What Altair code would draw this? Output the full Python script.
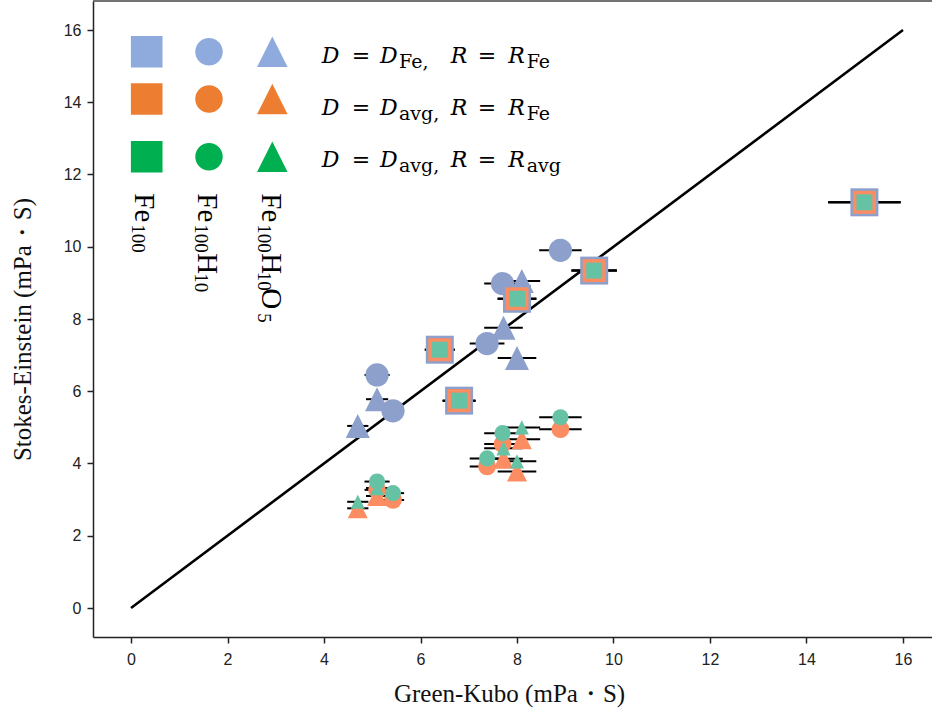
import altair as alt
import pandas as pd

# ---------------- data ----------------
methods = ["D=D_Fe, R=R_Fe", "D=D_avg, R=R_Fe", "D=D_avg, R=R_avg"]
materials = ["Fe100", "Fe100H10", "Fe100H10O5"]

# Fe100 (squares)
fe100_gk = [6.4, 6.8, 8.0, 9.6, 15.2]
fe100_gk_err = [0.31, 0.34, 0.40, 0.47, 0.75]
fe100_se_dfe_rfe = [7.15, 5.74, 8.56, 9.34, 11.23]
fe100_se_davg_rfe = [7.15, 5.74, 8.56, 9.34, 11.23]
fe100_se_davg_ravg = [7.15, 5.74, 8.56, 9.34, 11.23]

# Fe100H10 (circles)
feh_gk = [5.1, 5.43, 7.38, 7.7, 8.9]
feh_gk_err = [0.26, 0.23, 0.36, 0.38, 0.44]
feh_se_dfe_rfe = [6.45, 5.46, 7.32, 8.98, 9.9]
feh_se_davg_rfe = [3.27, 2.99, 3.92, 4.54, 4.95]
feh_se_davg_ravg = [3.50, 3.18, 4.14, 4.84, 5.28]

# Fe100H10O5 (triangles)
feho_gk = [4.7, 5.1, 7.72, 8.0, 8.1]
feho_gk_err = [0.22, 0.23, 0.40, 0.40, 0.38]
feho_se_dfe_rfe = [5.04, 5.78, 7.76, 6.92, 9.05]
feho_se_davg_rfe = [2.76, 3.10, 4.13, 3.78, 4.67]
feho_se_davg_ravg = [2.94, 3.32, 4.42, 4.06, 5.00]

diag_x = [0, 16]
diag_y = [0, 16]
axis_ticks = [0, 2, 4, 6, 8, 10, 12, 14, 16]

# ---------------- styles ----------------
TRI = "M0,-1L1,1L-1,1Z"
method_colors = ["#8DA0CB", "#FC8D62", "#66C2A5"]
legend_colors = ["#8FAADC", "#ED7D31", "#00B050"]
material_shapes = {"Fe100": "square", "Fe100H10": "circle", "Fe100H10O5": TRI}
marker_sizes = {"Fe100": [784, 529, 256], "Fe100H10": [540, 314, 262], "Fe100H10O5": [576, 400, 200]}
legend_sizes = {"Fe100": 1000, "Fe100H10": 755, "Fe100H10O5": 930}

# ---------------- geometry ----------------
W, H = 839, 636
PAD_L, PAD_T, PAD_B = 93, 1, 78
PX_X, PX_Y = 48.25, 36.125          # pixels per unit
XMIN = -(131 - PAD_L) / PX_X
XMAX = XMIN + W / PX_X
YMAX = (608 - PAD_T) / PX_Y
YMIN = YMAX - H / PX_Y


def dx(p):
    return XMIN + (p - PAD_L) / PX_X


def dy(p):
    return YMAX - (p - PAD_T) / PX_Y


series = [
    ("Fe100", fe100_gk, fe100_gk_err, [fe100_se_dfe_rfe, fe100_se_davg_rfe, fe100_se_davg_ravg]),
    ("Fe100H10", feh_gk, feh_gk_err, [feh_se_dfe_rfe, feh_se_davg_rfe, feh_se_davg_ravg]),
    ("Fe100H10O5", feho_gk, feho_gk_err, [feho_se_dfe_rfe, feho_se_davg_rfe, feho_se_davg_ravg]),
]

rows = []
for mi, method in enumerate(methods):
    for mat, gk, err, ys in series:
        for xv, ev, yv in zip(gk, err, ys[mi]):
            rows.append(dict(x=xv, x2=xv + ev, xlo=xv - ev, y=yv, method=method, material=mat,
                             color=method_colors[mi], shape=material_shapes[mat],
                             size=marker_sizes[mat][mi]))
pts = pd.DataFrame(rows)
bars = pts.assign(x=pts["xlo"])

xscale = alt.Scale(domain=[XMIN, XMAX], nice=False, zero=False)
yscale = alt.Scale(domain=[YMIN, YMAX], nice=False, zero=False)
xaxis = alt.Axis(values=axis_ticks, grid=False, title="Green-Kubo (mPa・S)",
                 domainColor="#222", domainWidth=1.5, tickColor="#222", tickWidth=1.5, tickSize=6,
                 labelFont="Liberation Sans", labelFontSize=16, labelColor="#222", labelPadding=8,
                 titleFont="Liberation Serif", titleFontSize=25, titleFontWeight="normal",
                 titleColor="#111", titleX=416, titleY=56, titleBaseline="middle", titleAlign="center")
yaxis = alt.Axis(values=axis_ticks, grid=False, title="Stokes-Einstein (mPa・S)",
                 domainColor="#222", domainWidth=1.5, tickColor="#222", tickWidth=1.5, tickSize=6,
                 labelFont="Liberation Sans", labelFontSize=16, labelColor="#222", labelPadding=6,
                 titleFont="Liberation Serif", titleFontSize=25, titleFontWeight="normal",
                 titleColor="#111", titleAngle=270, titleX=-71, titleY=328,
                 titleBaseline="middle", titleAlign="center")
X = alt.X("x:Q", scale=xscale, axis=xaxis)
Y = alt.Y("y:Q", scale=yscale, axis=yaxis)

diag = alt.Chart(pd.DataFrame({"x": diag_x, "y": diag_y})).mark_line(
    color="black", strokeWidth=2.6).encode(x=X, y=Y)

errbars = alt.Chart(bars).mark_rule(color="black", strokeWidth=2).encode(
    x=X, x2="x2:Q", y=Y)

markers = alt.Chart(pts).mark_point(filled=True, opacity=1, strokeWidth=0).encode(
    x=X, y=Y,
    color=alt.Color("color:N", scale=None),
    shape=alt.Shape("shape:N", scale=None),
    size=alt.Size("size:Q", scale=None))

# ---------------- custom legend ----------------
leg_col_px = [146.7, 209.0, 272.3]
leg_row_px = [51.7, 99.0, 156.7]
leg_rows = []
for ri in range(3):
    for ci, mat in enumerate(materials):
        leg_rows.append(dict(x=dx(leg_col_px[ci]), y=dy(leg_row_px[ri]), color=legend_colors[ri],
                             shape=material_shapes[mat], size=legend_sizes[mat]))
leg_sym = alt.Chart(pd.DataFrame(leg_rows)).mark_point(filled=True, opacity=1, strokeWidth=0).encode(
    x=X, y=Y,
    color=alt.Color("color:N", scale=None),
    shape=alt.Shape("shape:N", scale=None),
    size=alt.Size("size:Q", scale=None))

row_base = [63.0, 115.0, 167.0]
sub_texts = [["Fe,", "Fe"], ["avg,", "Fe"], ["avg,", "avg"]]
main_pieces = [("D", 321.7), ("=", 351.7), ("D", 380.0), ("R", 450.7), ("=", 477.7), ("R", 508.3)]
sub_x = [399.0, 526.7]
main_rows, sub_rows = [], []
for ri in range(3):
    for t, px in main_pieces:
        main_rows.append(dict(x=dx(px), y=dy(row_base[ri]), text=t))
    for si in range(2):
        sub_rows.append(dict(x=dx(sub_x[si]), y=dy(row_base[ri] + 5), text=sub_texts[ri][si]))

eq_main = alt.Chart(pd.DataFrame(main_rows)).mark_text(
    align="left", baseline="alphabetic", font="DejaVu Serif", fontStyle="italic",
    fontSize=22, color="black").encode(x=X, y=Y, text="text:N")
eq_sub = alt.Chart(pd.DataFrame(sub_rows)).mark_text(
    align="left", baseline="alphabetic", font="DejaVu Serif", fontSize=19,
    color="black").encode(x=X, y=Y, text="text:N")

# vertical material labels (rotated 90 degrees)
vcol_base = [135.0, 198.3, 261.7]
v_main, v_sub = [], []
label_parts = [
    [("Fe", 0, 193.3), ("100", 1, 224.3)],
    [("Fe", 0, 193.3), ("100", 1, 224.3), ("H", 0, 253.3), ("10", 1, 273.3)],
    [("Fe", 0, 193.3), ("100", 1, 224.3), ("H", 0, 253.3), ("10", 1, 271.7), ("O", 0, 288.3), ("5", 1, 313.3)],
]
for ci, parts in enumerate(label_parts):
    for t, is_sub, py in parts:
        if is_sub:
            v_sub.append(dict(x=dx(vcol_base[ci] - 3.5), y=dy(py), text=t))
        else:
            v_main.append(dict(x=dx(vcol_base[ci]), y=dy(py), text=t))

lab_main = alt.Chart(pd.DataFrame(v_main)).mark_text(
    align="left", baseline="alphabetic", angle=90, font="Liberation Serif", fontSize=29,
    color="black").encode(x=X, y=Y, text="text:N")
lab_sub = alt.Chart(pd.DataFrame(v_sub)).mark_text(
    align="left", baseline="alphabetic", angle=90, font="Liberation Serif", fontSize=19,
    color="black").encode(x=X, y=Y, text="text:N")

top_border = alt.Chart(pd.DataFrame({"a": [0]})).mark_rule(color="#444", strokeWidth=1.5).encode(
    x=alt.value(0), x2=alt.value(W), y=alt.value(0))

chart = alt.layer(
    top_border, diag, errbars, markers, leg_sym, eq_main, eq_sub, lab_main, lab_sub
).properties(
    width=W, height=H,
    padding={"left": PAD_L, "top": PAD_T, "right": 0, "bottom": PAD_B},
    autosize=alt.AutoSizeParams(type="none"),
    background="white",
).configure_view(stroke=None)

chart.save("out.html", embed_options={"renderer": "svg", "actions": False})
